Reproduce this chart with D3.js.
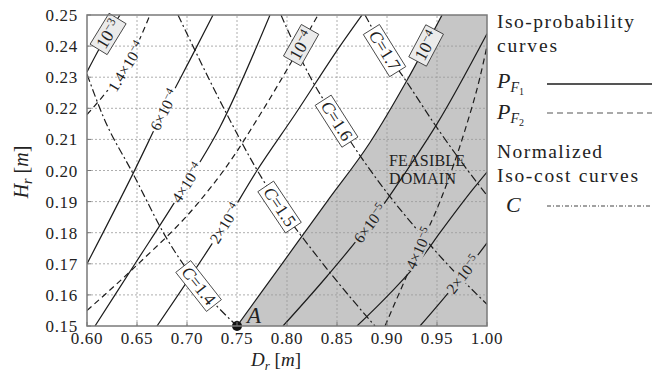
<html>
<head>
<meta charset="utf-8">
<style>
  body { margin: 0; background: #fff; }
  text { font-family: "Liberation Serif", "DejaVu Serif", serif; fill: #222; }
</style>
</head>
<body>
<svg width="661" height="383"></svg>
<script src="https://d3js.org/d3.v7.min.js"></script>
<script>
// ticks
const xTicks = [0.60, 0.65, 0.70, 0.75, 0.80, 0.85, 0.90, 0.95, 1.00];
const yTicks = [0.15, 0.16, 0.17, 0.18, 0.19, 0.20, 0.21, 0.22, 0.23, 0.24, 0.25];

// iso-probability curves P_F1 (solid), points are [Dr, Hr]
const pf1_1e3 = [[0.600, 0.2317], [0.612, 0.2390], [0.633, 0.2500]];
const pf1_6e4 = [[0.600, 0.170], [0.646, 0.199], [0.677, 0.2195], [0.708, 0.2387], [0.726, 0.250]];
const pf1_4e4 = [[0.608, 0.150], [0.648, 0.170], [0.688, 0.190], [0.733, 0.214], [0.783, 0.250]];
const pf1_2e4 = [[0.670, 0.150], [0.738, 0.183], [0.770, 0.200], [0.808, 0.218], [0.853, 0.240], [0.875, 0.250]];
const pf1_1e4 = [[0.750, 0.150], [0.795, 0.170], [0.840, 0.190], [0.883, 0.209], [0.920, 0.229], [0.955, 0.250]];
const pf1_6e5 = [[0.796, 0.150], [0.840, 0.166], [0.883, 0.183], [0.926, 0.203], [0.950, 0.215], [1.000, 0.244]];
const pf1_4e5 = [[0.870, 0.150], [0.903, 0.1605], [0.935, 0.172], [0.953, 0.180], [0.986, 0.194], [1.000, 0.1995]];
const pf1_2e5 = [[0.933, 0.150], [0.966, 0.1625], [1.000, 0.1767]];

// iso-probability curves P_F2 (dashed)
const pf2_14e4 = [[0.600, 0.2180], [0.620, 0.2255], [0.640, 0.2340], [0.663, 0.2500]];
const pf2_1e4 = [[0.600, 0.155], [0.648, 0.169], [0.711, 0.1895], [0.740, 0.2015], [0.776, 0.2195], [0.831, 0.250]];
const pf2_4e5 = [[0.898, 0.150], [0.925, 0.170], [0.956, 0.1925], [0.978, 0.213], [0.993, 0.230], [1.000, 0.240]];

// normalized iso-cost curves C (dash-dot)
const cost14 = [[0.600, 0.231], [0.616, 0.2175], [0.646, 0.199], [0.680, 0.178], [0.713, 0.1626], [0.750, 0.150]];
const cost15 = [[0.691, 0.250], [0.736, 0.2205], [0.770, 0.2002], [0.793, 0.1884], [0.825, 0.1745], [0.866, 0.1582], [0.888, 0.150]];
const cost16 = [[0.794, 0.250], [0.823, 0.2302], [0.850, 0.216], [0.876, 0.2034], [0.903, 0.1916], [0.930, 0.181], [0.960, 0.170], [1.000, 0.157]];
const cost17 = [[0.878, 0.250], [0.898, 0.2387], [0.918, 0.2293], [0.948, 0.2147], [0.975, 0.2025], [1.000, 0.192]];

const pointA = [0.75, 0.15];

// contour labels: which curve, at which Dr, text
const curveLabels = [
  {curve: pf1_1e3, at: 0.621, base: "10", exp: "−3", kind: "gray"},
  {curve: pf2_14e4, at: 0.639, base: "1.4×10", exp: "−4", kind: "inline"},
  {curve: pf1_6e4, at: 0.677, base: "6×10", exp: "−4", kind: "inline"},
  {curve: pf1_4e4, at: 0.700, base: "4×10", exp: "−4", kind: "inline"},
  {curve: pf1_2e4, at: 0.738, base: "2×10", exp: "−4", kind: "inline"},
  {curve: pf2_1e4, at: 0.814, base: "10", exp: "−4", kind: "gray"},
  {curve: pf1_1e4, at: 0.939, base: "10", exp: "−4", kind: "gray"},
  {curve: pf1_6e5, at: 0.883, base: "6×10", exp: "−5", kind: "inline"},
  {curve: pf2_4e5, at: 0.932, base: "4×10", exp: "−5", kind: "inline"},
  {curve: pf1_2e5, at: 0.976, base: "2×10", exp: "−5", kind: "inline"},
  {curve: cost14, at: 0.712, cost: "1.4", kind: "white"},
  {curve: cost15, at: 0.793, cost: "1.5", kind: "white"},
  {curve: cost16, at: 0.850, cost: "1.6", kind: "white"},
  {curve: cost17, at: 0.898, cost: "1.7", kind: "white"}
];

const svg = d3.select("svg");
const x = d3.scaleLinear().domain([0.6, 1.0]).range([87, 487]);
const y = d3.scaleLinear().domain([0.15, 0.25]).range([326, 15]);

const defs = svg.append("defs");
defs.append("clipPath").attr("id", "plotclip")
  .append("rect").attr("x", 87).attr("y", 15).attr("width", 400).attr("height", 311);
const mask = defs.append("mask").attr("id", "lblmask")
  .attr("maskUnits", "userSpaceOnUse").attr("x", 0).attr("y", 0).attr("width", 661).attr("height", 383);
mask.append("rect").attr("width", 661).attr("height", 383).attr("fill", "#fff");

const line = d3.line().x(d => x(d[0])).y(d => y(d[1])).curve(d3.curveMonotoneX);

// feasible domain (right of P_F1 = 1e-4)
svg.append("path")
  .attr("d", line(pf1_1e4) + `L${x(1.0)},${y(0.25)}L${x(1.0)},${y(0.15)}Z`)
  .attr("fill", "#c6c6c6")
  .attr("clip-path", "url(#plotclip)");

// grid
const grid = svg.append("g").attr("stroke", "#999").attr("stroke-width", 0.8).attr("stroke-dasharray", "2,2");
grid.selectAll(".gx").data(xTicks.slice(1, -1)).join("line")
  .attr("x1", d => x(d)).attr("x2", d => x(d)).attr("y1", y(0.15)).attr("y2", y(0.25));
grid.selectAll(".gy").data(yTicks.slice(1, -1)).join("line")
  .attr("x1", x(0.6)).attr("x2", x(1.0)).attr("y1", d => y(d)).attr("y2", d => y(d));

// curves
const curveG = svg.append("g").attr("clip-path", "url(#plotclip)")
  .append("g").attr("mask", "url(#lblmask)")
  .attr("fill", "none").attr("stroke", "#1c1c1c").attr("stroke-width", 1.2);

const solids = [pf1_1e3, pf1_6e4, pf1_4e4, pf1_2e4, pf1_1e4, pf1_6e5, pf1_4e5, pf1_2e5];
const dashes = [pf2_14e4, pf2_1e4, pf2_4e5];
const costs = [cost14, cost15, cost16, cost17];
const pathOf = new Map();
solids.forEach(c => pathOf.set(c, curveG.append("path").attr("d", line(c)).node()));
dashes.forEach(c => pathOf.set(c, curveG.append("path").attr("d", line(c)).attr("stroke-dasharray", "6,4").node()));
costs.forEach(c => pathOf.set(c, curveG.append("path").attr("d", line(c)).attr("stroke-dasharray", "8,3,2,3").node()));

function pointAt(node, px) {
  const L = node.getTotalLength();
  let lo = 0, hi = L;
  for (let i = 0; i < 40; i++) {
    const mid = (lo + hi) / 2;
    if (node.getPointAtLength(mid).x < px) lo = mid; else hi = mid;
  }
  const p = node.getPointAtLength(lo);
  const a = node.getPointAtLength(Math.max(0, lo - 4));
  const b = node.getPointAtLength(Math.min(L, lo + 4));
  return {x: p.x, y: p.y, ang: Math.atan2(b.y - a.y, b.x - a.x) * 180 / Math.PI};
}

// labels
const labelG = svg.append("g");
curveLabels.forEach(l => {
  const p = pointAt(pathOf.get(l.curve), x(l.at));
  const tr = `translate(${p.x},${p.y}) rotate(${p.ang})`;
  const g = labelG.append("g").attr("transform", tr);
  const rect = g.append("rect");
  const t = g.append("text").attr("text-anchor", "middle").attr("dy", "0.35em")
    .attr("font-size", l.kind === "inline" ? 15.5 : 17.5)
    .attr("fill", l.kind === "inline" ? "#333" : "#222");
  if (l.cost) {
    t.append("tspan").attr("font-style", "italic").text("C");
    t.append("tspan").text("=" + l.cost);
  } else {
    t.append("tspan").text(l.base);
    t.append("tspan").attr("font-size", l.kind === "inline" ? 11 : 12).attr("dy", "-0.5em").text(l.exp);
  }
  const bb = t.node().getBBox();
  if (l.kind === "inline") {
    rect.remove();
    mask.append("rect").attr("transform", tr)
      .attr("x", bb.x - 2).attr("y", bb.y + 1).attr("width", bb.width + 4).attr("height", bb.height - 2)
      .attr("fill", "#000");
  } else {
    rect.attr("x", bb.x - 3).attr("y", bb.y + 1).attr("width", bb.width + 6).attr("height", bb.height - 1)
      .attr("fill", l.kind === "gray" ? "#ebebeb" : "#fff")
      .attr("stroke", "#333").attr("stroke-width", 0.8);
  }
});

// feasible domain text
svg.append("text").attr("x", 389).attr("y", 166).attr("font-size", 16).attr("fill", "#444")
  .attr("textLength", 76).attr("lengthAdjust", "spacing").text("FEASIBLE");
svg.append("text").attr("x", 389).attr("y", 184).attr("font-size", 16).attr("fill", "#444")
  .attr("textLength", 67).attr("lengthAdjust", "spacing").text("DOMAIN");

// point A
svg.append("circle").attr("cx", x(pointA[0])).attr("cy", y(pointA[1])).attr("r", 5).attr("fill", "#111");
svg.append("text").attr("x", x(pointA[0]) + 10).attr("y", y(pointA[1]) - 3)
  .attr("font-size", 23).attr("font-style", "italic").text("A");

// frame and ticks
svg.append("rect").attr("x", 87).attr("y", 15).attr("width", 400).attr("height", 311)
  .attr("fill", "none").attr("stroke", "#7a7a7a").attr("stroke-width", 1.5);
const tk = svg.append("g").attr("stroke", "#7a7a7a").attr("stroke-width", 1);
tk.selectAll(".tx").data(xTicks).join("line")
  .attr("x1", d => x(d)).attr("x2", d => x(d)).attr("y1", 326).attr("y2", 322);
tk.selectAll(".ty").data(yTicks).join("line")
  .attr("x1", 87).attr("x2", 91).attr("y1", d => y(d)).attr("y2", d => y(d));

svg.append("g").selectAll("text").data(xTicks).join("text")
  .attr("x", d => x(d)).attr("y", 344).attr("text-anchor", "middle")
  .attr("font-size", 17).attr("letter-spacing", 0.7).text(d => d.toFixed(2));
svg.append("g").selectAll("text").data(yTicks).join("text")
  .attr("x", 78).attr("y", d => y(d) + 6).attr("text-anchor", "end")
  .attr("font-size", 17).attr("letter-spacing", 0.7).text(d => d.toFixed(2));

// axis titles
const xt = svg.append("text").attr("x", 276).attr("y", 366).attr("text-anchor", "middle").attr("font-size", 19);
xt.append("tspan").attr("font-style", "italic").text("D");
xt.append("tspan").attr("font-style", "italic").attr("font-size", 13).attr("dy", 4).text("r");
xt.append("tspan").attr("dy", -4).text(" [");
xt.append("tspan").attr("font-style", "italic").text("m");
xt.append("tspan").text("]");

const yt = svg.append("text").attr("transform", "translate(28,172) rotate(-90)")
  .attr("text-anchor", "middle").attr("font-size", 20);
yt.append("tspan").attr("font-style", "italic").text("H");
yt.append("tspan").attr("font-style", "italic").attr("font-size", 14).attr("dy", 4).text("r");
yt.append("tspan").attr("dy", -4).text(" [");
yt.append("tspan").attr("font-style", "italic").text("m");
yt.append("tspan").text("]");

// legend
const lg = svg.append("g");
const legText = (txt, yy, len) => lg.append("text").attr("x", 497).attr("y", yy).attr("font-size", 19.5)
  .attr("textLength", len).attr("lengthAdjust", "spacing").text(txt);
legText("Iso-probability", 28, 137);
legText("curves", 52, 60);
legText("Normalized", 158, 105);
legText("Iso-cost curves", 182, 141);

const pf = (sub, yy) => {
  const t = lg.append("text").attr("x", 497).attr("y", yy).attr("font-size", 22).attr("font-style", "italic");
  t.append("tspan").text("P");
  t.append("tspan").attr("font-size", 14).attr("dy", 4).text("F");
  t.append("tspan").attr("font-size", 10).attr("font-style", "normal").attr("dy", 3).text(sub);
};
pf("1", 88);
pf("2", 119);
lg.append("text").attr("x", 506).attr("y", 212).attr("font-size", 22).attr("font-style", "italic").text("C");

lg.append("line").attr("x1", 547).attr("x2", 652).attr("y1", 84).attr("y2", 84)
  .attr("stroke", "#1c1c1c").attr("stroke-width", 1.3);
lg.append("line").attr("x1", 547).attr("x2", 652).attr("y1", 113).attr("y2", 113)
  .attr("stroke", "#555").attr("stroke-width", 1.1).attr("stroke-dasharray", "6,4");
lg.append("line").attr("x1", 547).attr("x2", 652).attr("y1", 206).attr("y2", 206)
  .attr("stroke", "#444").attr("stroke-width", 1.1).attr("stroke-dasharray", "4,2,1,2");
</script>
</body>
</html>
